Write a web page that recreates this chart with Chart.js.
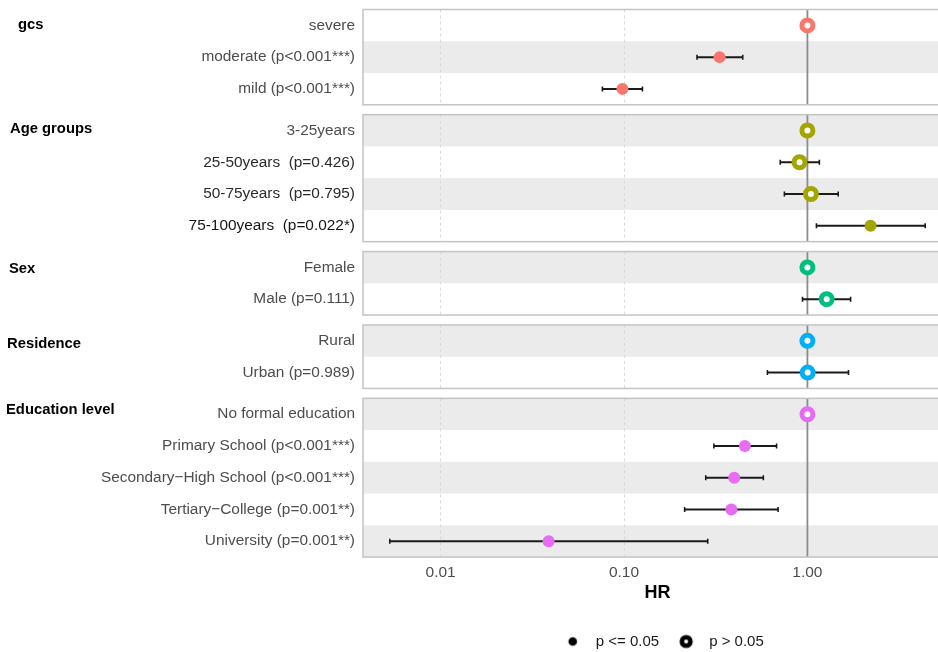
<!DOCTYPE html>
<html>
<head>
<meta charset="utf-8">
<script src="https://cdn.jsdelivr.net/npm/chart.js@4.4.1/dist/chart.umd.min.js"></script>
<style>
html,body{margin:0;padding:0;background:#fff;overflow:hidden;width:938px;height:652px}
#wrap{position:relative;width:938px;height:652px;overflow:hidden}
.pane{position:absolute;left:0;width:952px}
</style>
</head>
<body>
<div id="wrap"></div>
<script>
// ---------------- DATA ----------------
const groupNames = ['gcs', 'Age groups', 'Sex', 'Residence', 'Education level'];

const gcsLabels = ['severe', 'moderate (p<0.001***)', 'mild (p<0.001***)'];
const gcsHR     = [1, 0.332, 0.098];
const gcsLow    = [null, 0.250, 0.0762];
const gcsHigh   = [null, 0.444, 0.126];
const gcsSig    = [false, true, true];

const ageLabels = ['3-25years', '25-50years  (p=0.426)', '50-75years  (p=0.795)', '75-100years  (p=0.022*)'];
const ageHR     = [1, 0.906, 1.045, 2.21];
const ageLow    = [null, 0.711, 0.749, 1.12];
const ageHigh   = [null, 1.162, 1.472, 4.39];
const ageSig    = [false, false, false, true];

const sexLabels = ['Female', 'Male (p=0.111)'];
const sexHR     = [1, 1.274];
const sexLow    = [null, 0.94];
const sexHigh   = [null, 1.72];
const sexSig    = [false, false];

const resLabels = ['Rural', 'Urban (p=0.989)'];
const resHR     = [1, 1.003];
const resLow    = [null, 0.605];
const resHigh   = [null, 1.675];
const resSig    = [false, false];

const eduLabels = ['No formal education', 'Primary School (p<0.001***)', 'Secondary\u2212High School (p<0.001***)', 'Tertiary\u2212College (p=0.001**)', 'University (p=0.001**)'];
const eduHR     = [1, 0.456, 0.399, 0.385, 0.0388];
const eduLow    = [null, 0.309, 0.279, 0.214, 0.00528];
const eduHigh   = [null, 0.679, 0.575, 0.692, 0.286];
const eduSig    = [false, true, true, true, true];

const xTickValues = [0.01, 0.1, 1];
const referenceHR = 1;
const xTitle = 'HR';
const legendLabels = ['p <= 0.05', 'p > 0.05'];

// ---------------- STYLE ----------------
const FONT = "'Liberation Sans', Arial, Helvetica, sans-serif";
const groupColors = ['#F8766D', '#A3A500', '#00BF7D', '#00B0F6', '#E76BF3'];
const labelInks = ['#4D4D4D', '#2B2B2B', '#161616'];
const labelTone = [[0,0,0],[0,1,1,2],[0,0],[0,0],[0,0,0,0,0]];
const titleOffsets = [{dx:18,dy:0},{dx:10,dy:-2},{dx:9,dy:1},{dx:7,dy:3},{dx:6,dy:-4}];
const L = { top: 9.5, rowH: 31.75, gap: 9.9, axisW: 363, pad: 2, lastBottom: 659, legendShift: 3 };

Chart.defaults.font.family = FONT;

const panels = [
  {labels: gcsLabels, hr: gcsHR, lo: gcsLow, hi: gcsHigh, sig: gcsSig},
  {labels: ageLabels, hr: ageHR, lo: ageLow, hi: ageHigh, sig: ageSig},
  {labels: sexLabels, hr: sexHR, lo: sexLow, hi: sexHigh, sig: sexSig},
  {labels: resLabels, hr: resHR, lo: resLow, hi: resHigh, sig: resSig},
  {labels: eduLabels, hr: eduHR, lo: eduLow, hi: eduHigh, sig: eduSig}
];

// x range: data range on log scale, expanded 5% each side
const lows = [], highs = [];
panels.forEach(p => { p.hr.forEach((v,i) => { lows.push(p.lo[i] ?? v); highs.push(p.hi[i] ?? v); }); });
const lmin = Math.log10(Math.min(...lows)), lmax = Math.log10(Math.max(...highs));
const ext = (lmax - lmin) * 0.05;
const xMin = Math.pow(10, lmin - ext), xMax = Math.pow(10, lmax + ext);

// legend marker images
function markImg(filled) {
  const c = document.createElement('canvas'); c.width = 18; c.height = 18;
  const g = c.getContext('2d');
  g.beginPath(); g.arc(9, 9, 4.3, 0, Math.PI * 2);
  if (filled) { g.fillStyle = '#000'; g.fill(); }
  else { g.fillStyle = '#fff'; g.fill(); g.lineWidth = 4.6; g.strokeStyle = '#000'; g.stroke(); }
  return c;
}
const legendMarks = [markImg(true), markImg(false)];

const panelPlugin = {
  id: 'panel',
  afterLayout(chart, args, o) {
    if (chart.legend && chart.options.plugins.legend.display) {
      chart.legend.left += L.legendShift;
      chart.legend.right += L.legendShift;
    }
  },
  beforeDraw(chart, args, o) {
    const {ctx, chartArea: a, scales: {y}} = chart;
    const band = a.height / o.n;
    ctx.save();
    ctx.fillStyle = '#EBEBEB';
    for (let i = 0; i < o.n; i++) {
      if ((i + o.rowOffset) % 2 === 1) ctx.fillRect(a.left, y.getPixelForValue(i) - band / 2, a.width, band);
    }
    ctx.restore();
  },
  beforeDatasetsDraw(chart, args, o) {
    const {ctx, chartArea: a, scales: {x, y}} = chart;
    ctx.save();
    ctx.beginPath(); ctx.rect(a.left, a.top, a.width, a.height); ctx.clip();
    const rx = x.getPixelForValue(o.ref);
    ctx.strokeStyle = '#8C8C8C'; ctx.lineWidth = 1.8;
    ctx.beginPath(); ctx.moveTo(rx, a.top); ctx.lineTo(rx, a.bottom); ctx.stroke();
    ctx.strokeStyle = '#1A1A1A';
    o.lo.forEach((lo, i) => {
      const hi = o.hi[i];
      if (lo == null || hi == null) return;
      const yy = y.getPixelForValue(i), x1 = x.getPixelForValue(lo), x2 = x.getPixelForValue(hi);
      ctx.lineWidth = 2;
      ctx.beginPath(); ctx.moveTo(x1, yy); ctx.lineTo(x2, yy); ctx.stroke();
      ctx.lineWidth = 1.6;
      ctx.beginPath();
      ctx.moveTo(x1, yy - 2.5); ctx.lineTo(x1, yy + 2.5);
      ctx.moveTo(x2, yy - 2.5); ctx.lineTo(x2, yy + 2.5);
      ctx.stroke();
    });
    ctx.restore();
  },
  afterDraw(chart, args, o) {
    const {ctx, chartArea: a, scales: {y}} = chart;
    ctx.save();
    ctx.strokeStyle = '#C4C4C4'; ctx.lineWidth = 1.5;
    ctx.strokeRect(a.left, a.top, a.width, a.height);
    ctx.fillStyle = '#000';
    ctx.font = 'bold 14.8px ' + FONT;
    ctx.textAlign = 'left'; ctx.textBaseline = 'middle';
    ctx.fillText(o.title, o.dx, y.getPixelForValue(0) + o.dy);
    ctx.restore();
  }
};

const wrap = document.getElementById('wrap');
let rowsBefore = 0;
panels.forEach((p, k) => {
  const isLast = k === panels.length - 1;
  const n = p.labels.length;
  const top = L.top + rowsBefore * L.rowH + k * L.gap;
  const bottom = top + n * L.rowH;
  const wrapTop = Math.floor(top - L.pad);
  const wrapBottom = isLast ? L.lastBottom : Math.ceil(bottom + L.pad);
  const div = document.createElement('div');
  div.className = 'pane';
  div.style.top = wrapTop + 'px';
  div.style.height = (wrapBottom - wrapTop) + 'px';
  const cv = document.createElement('canvas');
  div.appendChild(cv); wrap.appendChild(div);
  const color = groupColors[k];
  const tones = labelTone[k];

  new Chart(cv, {
    type: 'scatter',
    data: {
      datasets: [{
        data: p.hr.map((v, i) => ({x: v, y: p.labels[i]})),
        pointStyle: 'circle',
        pointRadius: p.sig.map(s => s ? 6 : 5.5),
        pointHoverRadius: p.sig.map(s => s ? 6 : 5.5),
        pointBorderWidth: p.sig.map(s => s ? 0 : 5),
        pointHoverBorderWidth: p.sig.map(s => s ? 0 : 5),
        pointBackgroundColor: p.sig.map(s => s ? color : '#FFFFFF'),
        pointBorderColor: color,
        clip: false
      }]
    },
    options: {
      responsive: true,
      maintainAspectRatio: false,
      animation: false,
      events: [],
      layout: {autoPadding: false, padding: {top: top - wrapTop, bottom: isLast ? 0 : (wrapBottom - bottom), left: 0, right: 0}},
      scales: {
        x: {
          type: 'logarithmic', position: 'bottom', min: xMin, max: xMax,
          afterBuildTicks: s => { s.ticks = xTickValues.map(v => ({value: v})); },
          afterFit: s => { if (!isLast) s.height = 0; s.paddingLeft = 0; s.paddingRight = 0; },
          grid: {
            color: c => (c.tick && c.tick.value === referenceHR) ? 'rgba(0,0,0,0)' : '#DADADA',
            lineWidth: 1, drawTicks: false
          },
          border: {display: false, dash: [3, 3]},
          ticks: {
            display: isLast, padding: 6, color: '#4D4D4D', autoSkip: false, maxRotation: 0,
            font: {family: FONT, size: 15.5},
            callback: v => Number(v).toFixed(2)
          },
          title: {
            display: isLast, text: xTitle, color: '#000',
            font: {family: FONT, size: 18, weight: 'bold'},
            padding: {top: -5, bottom: 18.2}
          }
        },
        y: {
          type: 'category', labels: p.labels, offset: true,
          afterFit: s => { s.width = L.axisW; s.paddingTop = 0; s.paddingBottom = 0; },
          grid: {display: false, drawTicks: false},
          border: {display: false},
          ticks: {
            color: c => labelInks[tones[c.index] || 0],
            font: {family: FONT, size: 15.4},
            padding: 8, autoSkip: false
          }
        }
      },
      plugins: {
        tooltip: {enabled: false},
        legend: isLast ? {
          display: true, position: 'bottom', align: 'center', fullSize: false,
          labels: {
            usePointStyle: true, pointStyleWidth: 31, boxHeight: 15, padding: 11.5,
            color: '#1A1A1A', font: {family: FONT, size: 15},
            generateLabels: () => legendLabels.map((t, i) => ({
              text: t, pointStyle: legendMarks[i], fillStyle: '#000', strokeStyle: '#000',
              lineWidth: 0, hidden: false, datasetIndex: 0, fontColor: '#1A1A1A'
            }))
          }
        } : {display: false},
        panel: {
          n: n, rowOffset: rowsBefore, ref: referenceHR, lo: p.lo, hi: p.hi,
          title: groupNames[k], dx: titleOffsets[k].dx, dy: titleOffsets[k].dy
        }
      }
    },
    plugins: [panelPlugin]
  });
  rowsBefore += n;
});
</script>
</body>
</html>
